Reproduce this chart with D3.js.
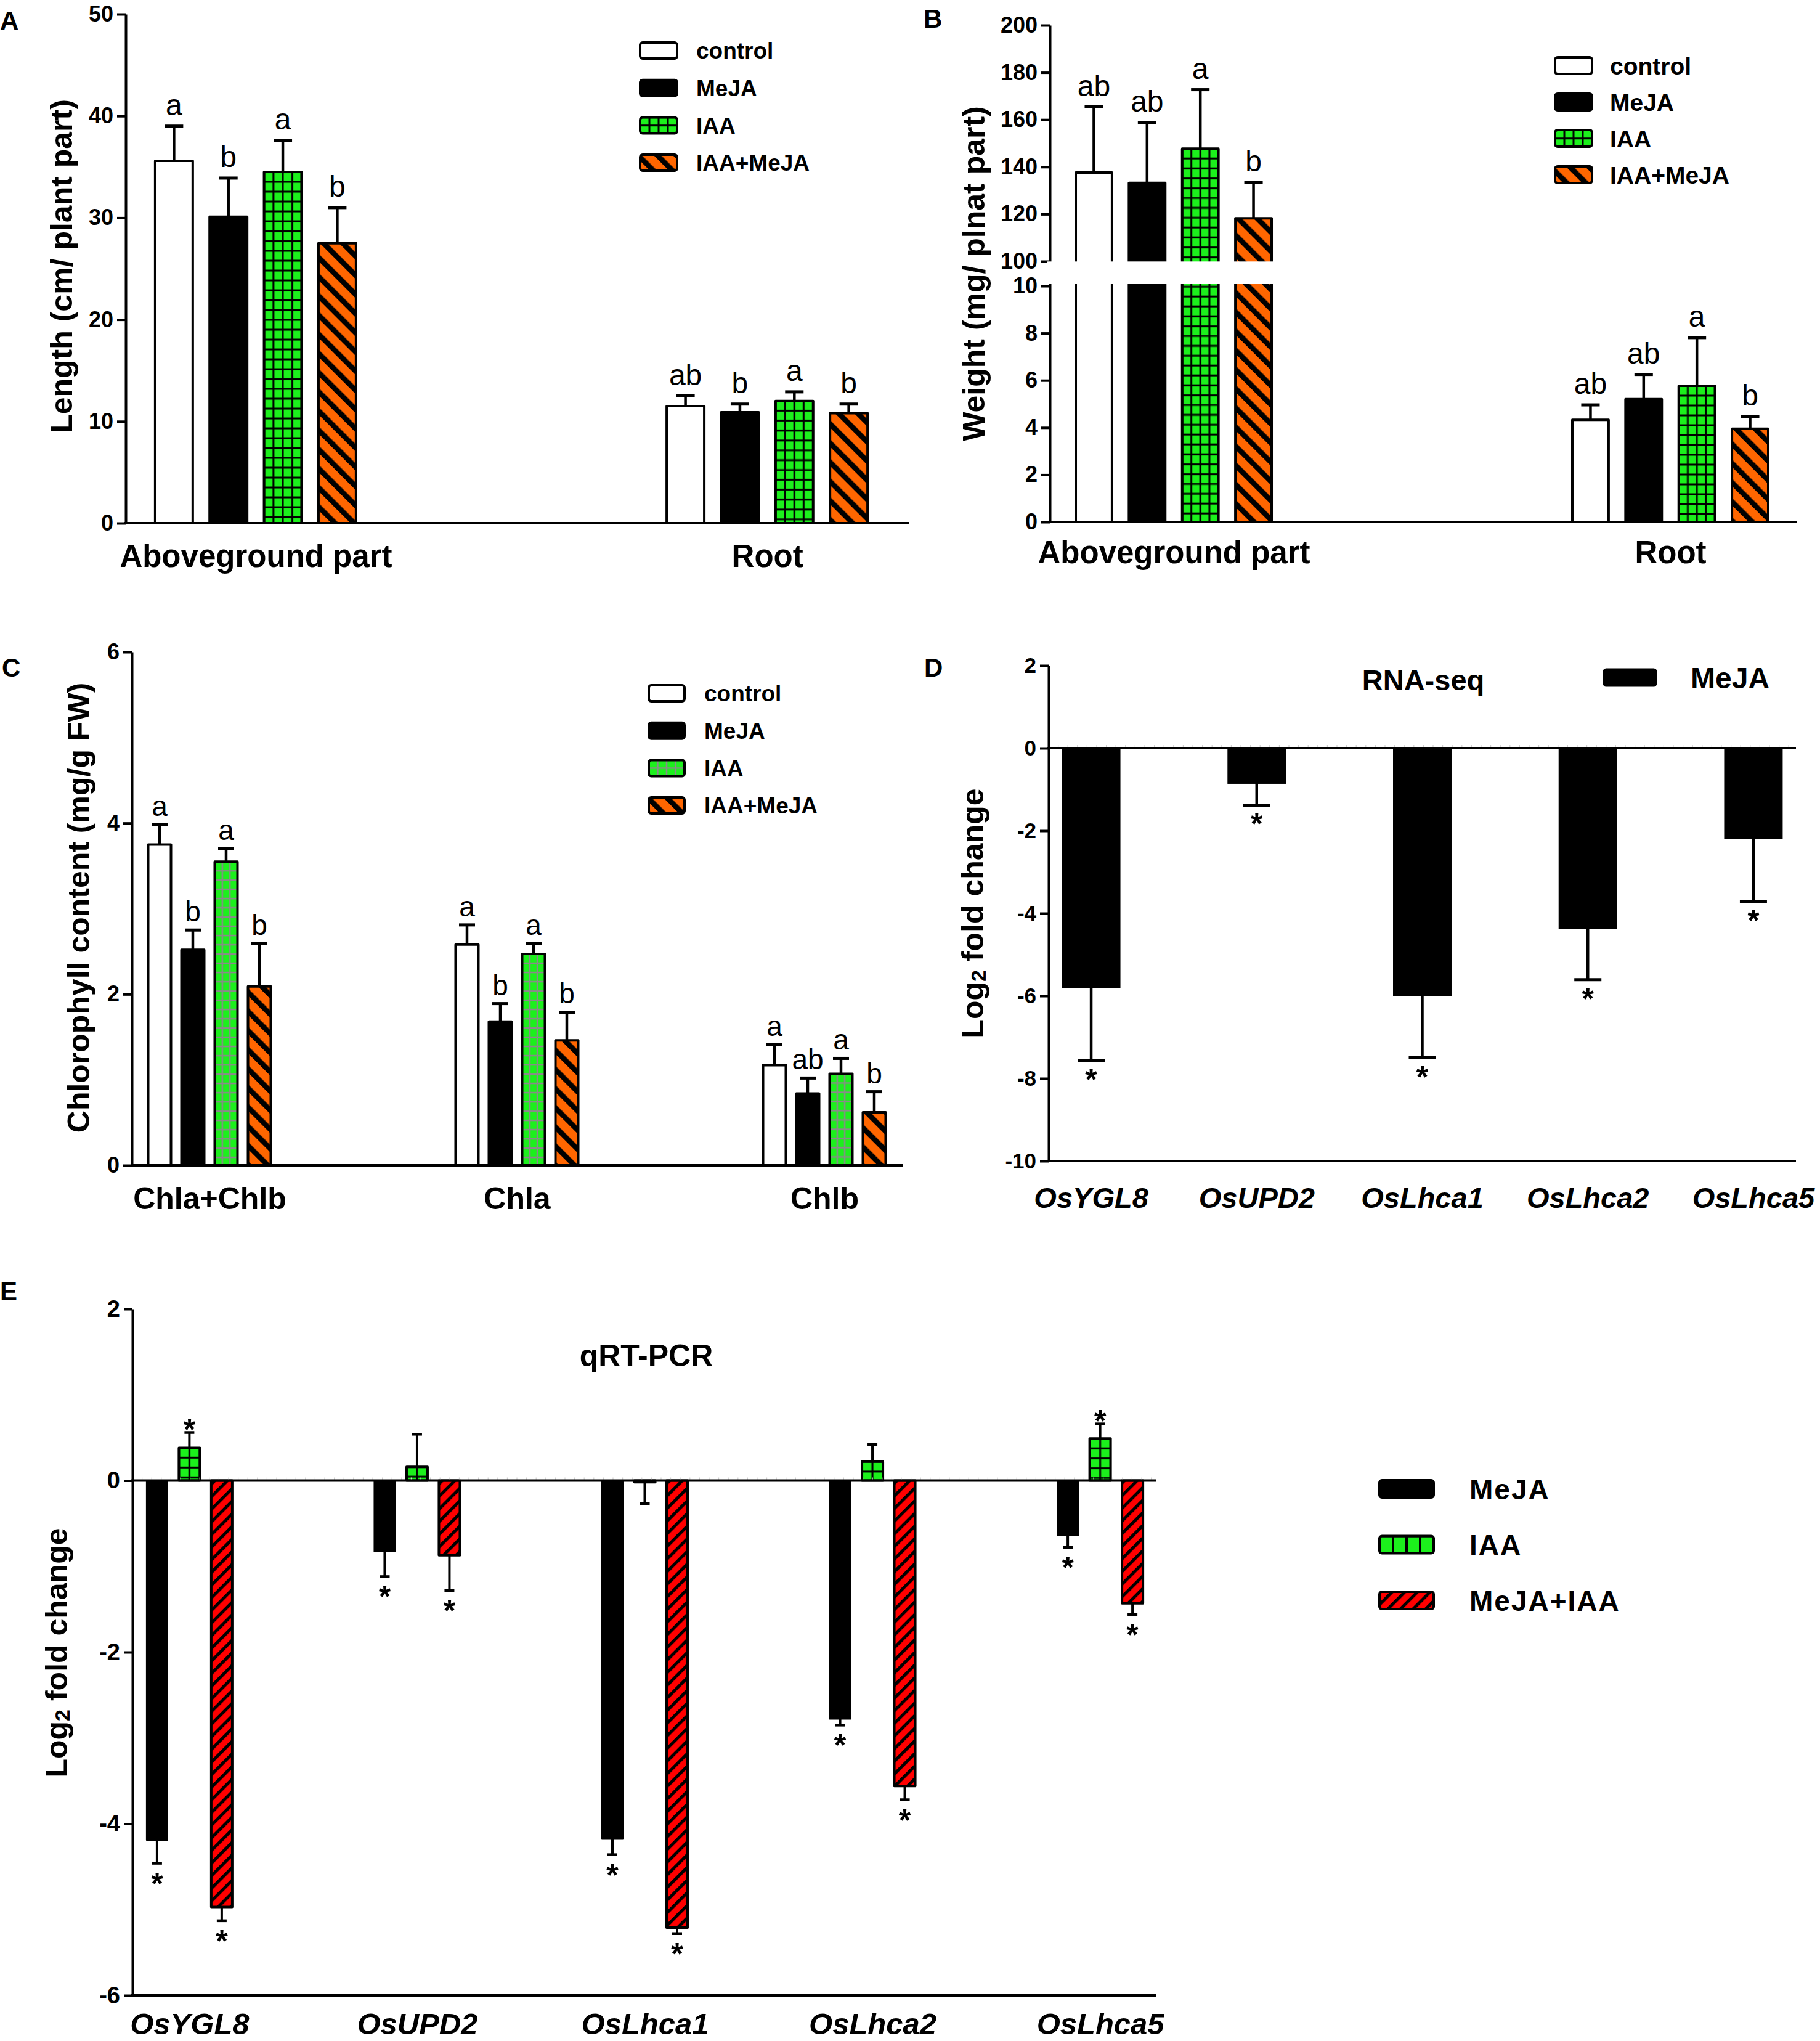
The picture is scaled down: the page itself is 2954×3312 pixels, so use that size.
<!DOCTYPE html>
<html><head><meta charset="utf-8">
<script src="https://cdn.jsdelivr.net/npm/d3@7"></script>
<style>
html,body{margin:0;padding:0;background:#fff;}
svg{display:block;}
</style></head><body>
<svg id="chart" width="2954" height="3312"></svg>
<script>
// ---------------- DATA ----------------
const treatments4 = ["control", "MeJA", "IAA", "IAA+MeJA"];
// Panel A: length
const groupsAB = ["Aboveground part", "Root"];
const lengthMean = [[35.6, 30.1, 34.5, 27.5], [11.5, 10.9, 12.0, 10.8]];
const lengthErr = [[3.4, 3.8, 3.1, 3.5], [1.0, 0.8, 0.9, 0.9]];
const lengthLetters = [["a", "b", "a", "b"], ["ab", "b", "a", "b"]];
const lengthTicks = [0, 10, 20, 30, 40, 50];
// Panel B: weight
const weightMean = [[137.6, 133.2, 147.7, 118.2], [4.33, 5.2, 5.77, 3.95]];
const weightErr = [[27.8, 25.6, 25.0, 15.3], [0.63, 1.05, 2.04, 0.51]];
const weightLetters = [["ab", "ab", "a", "b"], ["ab", "ab", "a", "b"]];
const weightTicks = [0, 2, 4, 6, 8, 10, 100, 120, 140, 160, 180, 200];
// Panel C: chlorophyll
const chlGroups = ["Chla+Chlb", "Chla", "Chlb"];
const chlMean = [[3.75, 2.52, 3.55, 2.09], [2.58, 1.68, 2.47, 1.46], [1.17, 0.84, 1.07, 0.62]];
const chlErr = [[0.23, 0.23, 0.15, 0.50], [0.23, 0.21, 0.12, 0.33], [0.24, 0.18, 0.18, 0.24]];
const chlLetters = [["a", "b", "a", "b"], ["a", "b", "a", "b"], ["a", "ab", "a", "b"]];
const chlTicks = [0, 2, 4, 6];
// Panel D: RNA-seq
const genes = ["OsYGL8", "OsUPD2", "OsLhca1", "OsLhca2", "OsLhca5"];
const rnaseqMean = [-5.80, -0.85, -6.00, -4.37, -2.18];
const rnaseqErr = [1.76, 0.53, 1.50, 1.24, 1.54];
const rnaseqSig = [true, true, true, true, true];
const rnaseqTicks = [-10, -8, -6, -4, -2, 0, 2];
// Panel E: qRT-PCR
const qpcrSeries = ["MeJA", "IAA", "MeJA+IAA"];
const qpcrMeJA = [-4.19, -0.83, -4.18, -2.78, -0.64];
const qpcrMeJAErr = [0.27, 0.29, 0.18, 0.07, 0.14];
const qpcrIAA = [0.38, 0.16, -0.02, 0.22, 0.49];
const qpcrIAAErr = [0.18, 0.38, 0.25, 0.20, 0.17];
const qpcrMix = [-4.97, -0.87, -5.21, -3.56, -1.43];
const qpcrMixErr = [0.16, 0.41, 0.07, 0.16, 0.13];
const qpcrMeJASig = [true, true, true, true, true];
const qpcrIAASig = [true, false, false, false, true];
const qpcrMixSig = [true, true, true, true, true];
const qpcrTicks = [-6, -4, -2, 0, 2];

// ---------------- SETUP ----------------
const F = '"Liberation Sans", Arial, Helvetica, sans-serif';
const GREEN = "#1cf01c", ORANGE = "#ff6600", RED = "#ff0000";
const svg = d3.select("#chart");
svg.append("rect").attr("width", 2954).attr("height", 3312).attr("fill", "#fff");
const defs = svg.append("defs");
let pid = 0;
const plain = d => String(d);

function gridFill(x0, y0, cw, ch, col, lw) {
  const id = "grid" + (pid++);
  const p = defs.append("pattern").attr("id", id).attr("patternUnits", "userSpaceOnUse")
    .attr("width", cw).attr("height", ch).attr("patternTransform", `translate(${x0},${y0})`);
  p.append("rect").attr("width", cw).attr("height", ch).attr("fill", GREEN);
  p.append("rect").attr("x", -lw / 2).attr("width", lw).attr("height", ch).attr("fill", col);
  p.append("rect").attr("x", cw - lw / 2).attr("width", lw).attr("height", ch).attr("fill", col);
  p.append("rect").attr("y", -lw / 2).attr("width", cw).attr("height", lw).attr("fill", col);
  p.append("rect").attr("y", ch - lw / 2).attr("width", cw).attr("height", lw).attr("fill", col);
  return `url(#${id})`;
}
function stripeFill(angle, period, black, col) {
  const id = "str" + (pid++);
  const p = defs.append("pattern").attr("id", id).attr("patternUnits", "userSpaceOnUse")
    .attr("width", period).attr("height", period).attr("patternTransform", `rotate(${angle})`);
  p.append("rect").attr("width", period).attr("height", period).attr("fill", col);
  p.append("rect").attr("width", black).attr("height", period).attr("fill", "#000");
  return `url(#${id})`;
}
const orangeStripes = stripeFill(-45, 22, 8.5, ORANGE);
const redStripes = stripeFill(45, 14.5, 5, RED);

function styleAxis(g, fs) {
  g.attr("font-family", F);
  g.select(".domain").attr("stroke", "#000").attr("stroke-width", 4);
  g.selectAll(".tick line").attr("stroke", "#000").attr("stroke-width", 4);
  g.selectAll(".tick text").attr("fill", "#000").attr("font-size", fs).attr("font-weight", "bold").attr("font-family", F);
}
function hLine(x1, x2, y) {
  svg.append("line").attr("x1", x1).attr("x2", x2).attr("y1", y).attr("y2", y)
    .attr("stroke", "#000").attr("stroke-width", 4);
}
function minorTicks(x1, x2, y) {
  svg.append("g").selectAll("line").data(d3.range(x1 + 15.6, x2, 15.6)).join("line")
    .attr("x1", d => d).attr("x2", d => d).attr("y1", y - 5).attr("y2", y)
    .attr("stroke", "#d0d0d0").attr("stroke-width", 1.2);
}
function yTitle(cx, cy, parts) {
  const t = svg.append("text").attr("transform", `translate(${cx},${cy}) rotate(-90)`)
    .attr("text-anchor", "middle").attr("dominant-baseline", "central")
    .attr("font-family", F).attr("font-size", 50).attr("font-weight", "bold").attr("fill", "#000");
  parts.forEach(p => {
    const ts = t.append("tspan").text(p.t);
    if (p.sub) ts.attr("font-size", 34).attr("dy", 9);
    if (p.back) ts.attr("dy", -9);
  });
}
function label(x, y, txt, fs, opts = {}) {
  return svg.append("text").attr("x", x).attr("y", y).text(txt)
    .attr("font-family", F).attr("font-size", fs).attr("font-weight", opts.weight || "bold")
    .attr("font-style", opts.style || "normal").attr("text-anchor", opts.anchor || "start")
    .attr("letter-spacing", opts.ls || 0).attr("fill", "#000");
}
function drawErr(g, cx, y0, y1, capW, sw) {
  g.append("line").attr("x1", cx).attr("x2", cx).attr("y1", y0).attr("y2", y1)
    .attr("stroke", "#000").attr("stroke-width", sw);
  g.append("line").attr("x1", cx - capW / 2).attr("x2", cx + capW / 2).attr("y1", y1).attr("y2", y1)
    .attr("stroke", "#000").attr("stroke-width", sw + 0.5);
}

// generic grouped bar panel with 4 treatments and letters
function treatmentPanel(p) {
  const g = svg.append("g");
  p.groups.forEach((grp, gi) => {
    treatments4.forEach((s, si) => {
      const v = p.means[gi][si], e = p.errs[gi][si];
      const bw = p.inner.bandwidth();
      const bx = p.x(grp) + p.inner(s);
      const top = p.y(v), base = p.y(0);
      const cx = bx + bw / 2, ey = p.y(v + e);
      drawErr(g, cx, top, ey, p.capW, 4.5);
      let fill;
      if (si === 0) fill = "#fff";
      else if (si === 1) fill = "#000";
      else if (si === 2) fill = gridFill(bx, top, bw / p.cols, p.rowH, p.gridCol, p.gridW);
      else fill = orangeStripes;
      g.append("rect").attr("x", bx).attr("y", top).attr("width", bw).attr("height", base - top)
        .attr("fill", fill).attr("stroke", "#000").attr("stroke-width", 4).attr("stroke-linejoin", "round");
      g.append("text").attr("x", cx).attr("y", ey - p.letterGap).attr("text-anchor", "middle")
        .attr("font-family", F).attr("font-size", p.letterFS).attr("fill", "#000").text(p.letters[gi][si]);
    });
  });
}
function treatmentLegend(x, y0, step, w, h, tx, fs, cols, rowH, gridCol, gridW) {
  treatments4.forEach((s, i) => {
    const y = y0 + i * step;
    let fill;
    if (i === 0) fill = "#fff";
    else if (i === 1) fill = "#000";
    else if (i === 2) fill = gridFill(x, y, w / cols, rowH, gridCol, gridW);
    else fill = orangeStripes;
    svg.append("rect").attr("x", x).attr("y", y).attr("width", w).attr("height", h).attr("rx", 4)
      .attr("fill", fill).attr("stroke", "#000").attr("stroke-width", 4);
    label(tx, y + h / 2 + fs * 0.36, s, fs);
  });
}
function catAxis(x, yPos, off, fs, style) {
  const g = svg.append("g").attr("transform", `translate(0,${yPos})`)
    .call(d3.axisBottom(x).tickSize(0).tickPadding(0));
  g.select(".domain").remove();
  g.selectAll(".tick text").attr("dy", null).attr("y", off).attr("fill", "#000")
    .attr("font-family", F).attr("font-size", fs).attr("font-weight", "bold").attr("font-style", style || "normal");
  return g;
}

// ---------------- PANEL A ----------------
{
  const y = d3.scaleLinear().domain([0, 50]).range([849, 23]);
  const x = d3.scalePoint().domain(groupsAB).range([204, 1456]).padding(0.254);
  const inner = d3.scaleBand().domain(treatments4).range([-163, 163]).paddingInner(0.31);
  treatmentPanel({groups: groupsAB, means: lengthMean, errs: lengthErr, letters: lengthLetters,
    x, y, inner, capW: 30, cols: 4, rowH: 16, gridCol: "#000", gridW: 3, letterFS: 48, letterGap: 18});
  hLine(202, 1476, y(0));
  const ga = svg.append("g").attr("transform", "translate(204,0)")
    .call(d3.axisLeft(y).tickValues(lengthTicks).tickFormat(plain).tickSize(14).tickSizeOuter(0).tickPadding(6));
  styleAxis(ga, 36);
  catAxis(x, y(0), 71, 51);
  yTitle(100, 432, [{t: "Length (cm/ plant part)"}]);
  treatmentLegend(1039, 69, 60.7, 60, 26, 1130, 37, 4, 13, "#000", 3);
  label(0, 48, "A", 42);
}

// ---------------- PANEL B ----------------
{
  const y = d3.scaleLinear().domain([0, 10, 100, 200]).range([847, 464, 424, 41]);
  const x = d3.scalePoint().domain(groupsAB).range([1704, 2912]).padding(0.2494);
  const inner = d3.scaleBand().domain(treatments4).range([-159, 159]).paddingInner(0.318);
  treatmentPanel({groups: groupsAB, means: weightMean, errs: weightErr, letters: weightLetters,
    x, y, inner, capW: 30, cols: 4, rowH: 16, gridCol: "#000", gridW: 3, letterFS: 48, letterGap: 18});
  hLine(1702, 2916, y(0));
  const gb = svg.append("g").attr("transform", "translate(1704,0)")
    .call(d3.axisLeft(y).tickValues(weightTicks).tickFormat(plain).tickSize(14).tickSizeOuter(0).tickPadding(6));
  styleAxis(gb, 36);
  // axis break
  svg.append("rect").attr("x", 1700).attr("y", y(99.3)).attr("width", 420).attr("height", y(10) - y(99.3) - 3).attr("fill", "#fff");
  catAxis(x, y(0), 67, 51);
  yTitle(1581, 444, [{t: "Weight (mg/ plnat part)"}]);
  treatmentLegend(2524, 93, 59, 60, 27, 2613, 39, 4, 13.5, "#000", 3);
  label(1499, 45, "B", 42);
}

// ---------------- PANEL C ----------------
{
  const y = d3.scaleLinear().domain([0, 6]).range([1891, 1058]);
  const x = d3.scalePoint().domain(chlGroups).range([214, 1464]).padding(0.2525);
  const inner = d3.scaleBand().domain(treatments4).range([-99.5, 99.5]).paddingInner(0.315);
  treatmentPanel({groups: chlGroups, means: chlMean, errs: chlErr, letters: chlLetters,
    x, y, inner, capW: 26, cols: 3, rowH: 15, gridCol: "#8a8a8a", gridW: 2.5, letterFS: 46, letterGap: 14});
  hLine(212, 1466, y(0));
  const gc = svg.append("g").attr("transform", "translate(214,0)")
    .call(d3.axisLeft(y).tickValues(chlTicks).tickFormat(plain).tickSize(14).tickSizeOuter(0).tickPadding(6));
  styleAxis(gc, 36);
  catAxis(x, y(0), 71, 50);
  yTitle(128, 1473, [{t: "Chlorophyll content (mg/g FW)"}]);
  treatmentLegend(1053, 1112, 60.7, 58, 26, 1143, 37, 4, 13, "#8a8a8a", 2.5);
  label(3, 1098, "C", 42);
}

// ---------------- PANEL D ----------------
{
  const y = d3.scaleLinear().domain([-10, 2]).range([1884, 1080]);
  const x = d3.scaleBand().domain(genes).range([1702, 2915]).paddingInner(0.654).paddingOuter(0.084);
  const g = svg.append("g");
  genes.forEach((gn, i) => {
    const v = rnaseqMean[i], e = rnaseqErr[i];
    const bx = x(gn), bw = x.bandwidth(), cx = bx + bw / 2;
    const ey = y(v - e);
    drawErr(g, cx, y(v), ey, 44, 4.5);
    g.append("rect").attr("x", bx).attr("y", y(0)).attr("width", bw).attr("height", y(v) - y(0))
      .attr("fill", "#000").attr("stroke", "#000").attr("stroke-width", 2);
    if (rnaseqSig[i]) g.append("text").attr("x", cx).attr("y", ey + 48).attr("text-anchor", "middle")
      .attr("font-family", F).attr("font-size", 50).attr("font-weight", "bold").text("*");
  });
  minorTicks(1702, 2915, y(0));
  hLine(1700, 2915, y(0));
  hLine(1700, 2915, y(-10));
  const gd = svg.append("g").attr("transform", "translate(1702,0)")
    .call(d3.axisLeft(y).tickValues(rnaseqTicks).tickFormat(plain).tickSize(14).tickSizeOuter(0).tickPadding(6));
  styleAxis(gd, 35);
  catAxis(x, y(-10), 76, 47, "italic");
  yTitle(1579, 1482, [{t: "Log"}, {t: "2", sub: true}, {t: " fold change", back: true}]);
  label(2310, 1120, "RNA-seq", 47, {anchor: "middle"});
  svg.append("rect").attr("x", 2603).attr("y", 1086).attr("width", 85).attr("height", 27).attr("rx", 4)
    .attr("fill", "#000").attr("stroke", "#000").attr("stroke-width", 3);
  label(2744, 1117, "MeJA", 48);
  label(1500, 1098, "D", 42);
}

// ---------------- PANEL E ----------------
{
  const y = d3.scaleLinear().domain([-6, 2]).range([3238, 2124]);
  const x = d3.scalePoint().domain(genes).range([215, 1878]).padding(0.25);
  const inner = d3.scaleBand().domain(qpcrSeries).range([-69.5, 69.5]).paddingInner(0.352);
  const means = [qpcrMeJA, qpcrIAA, qpcrMix];
  const errs = [qpcrMeJAErr, qpcrIAAErr, qpcrMixErr];
  const sigs = [qpcrMeJASig, qpcrIAASig, qpcrMixSig];
  const g = svg.append("g");
  genes.forEach((gn, gi) => {
    qpcrSeries.forEach((s, si) => {
      const v = means[si][gi], e = errs[si][gi];
      const bw = inner.bandwidth(), bx = x(gn) + inner(s), cx = bx + bw / 2;
      const top = Math.min(y(v), y(0)), h = Math.abs(y(v) - y(0));
      const ey = v >= 0 ? y(v + e) : y(v - e);
      drawErr(g, cx, y(v), ey, 16, 4);
      let fill = "#000";
      if (si === 1) fill = gridFill(bx, top, bw / 2, 16, "#000", 3);
      if (si === 2) fill = redStripes;
      if (h > 1) g.append("rect").attr("x", bx).attr("y", top).attr("width", bw).attr("height", h)
        .attr("fill", fill).attr("stroke", "#000").attr("stroke-width", si === 0 ? 2 : 4).attr("stroke-linejoin", "round");
      if (sigs[si][gi]) g.append("text").attr("x", cx).attr("y", v >= 0 ? ey + 12 : ey + 50)
        .attr("text-anchor", "middle").attr("font-family", F).attr("font-size", 50).attr("font-weight", "bold").text("*");
    });
  });
  minorTicks(215, 1876, y(0));
  hLine(213, 1876, y(0));
  hLine(213, 1876, y(-6));
  const ge = svg.append("g").attr("transform", "translate(215,0)")
    .call(d3.axisLeft(y).tickValues(qpcrTicks).tickFormat(plain).tickSize(14).tickSizeOuter(0).tickPadding(6));
  styleAxis(ge, 38);
  catAxis(x, y(-6), 63, 49, "italic");
  yTitle(92, 2682, [{t: "Log"}, {t: "2", sub: true}, {t: " fold change", back: true}]);
  label(1049, 2217, "qRT-PCR", 50, {anchor: "middle"});
  // legend
  qpcrSeries.forEach((s, i) => {
    const ly = 2402 + i * 90.5, lx = 2239, lw = 88, lh = 28;
    let fill = "#000";
    if (i === 1) fill = gridFill(lx, ly, 22, 40, "#000", 4);
    if (i === 2) fill = redStripes;
    svg.append("rect").attr("x", lx).attr("y", ly).attr("width", lw).attr("height", lh).attr("rx", 4)
      .attr("fill", fill).attr("stroke", "#000").attr("stroke-width", 4);
    label(2385, ly + lh / 2 + 46 * 0.36, s, 46, {ls: 2});
  });
  label(0, 2110, "E", 42);
}
</script>
</body></html>
